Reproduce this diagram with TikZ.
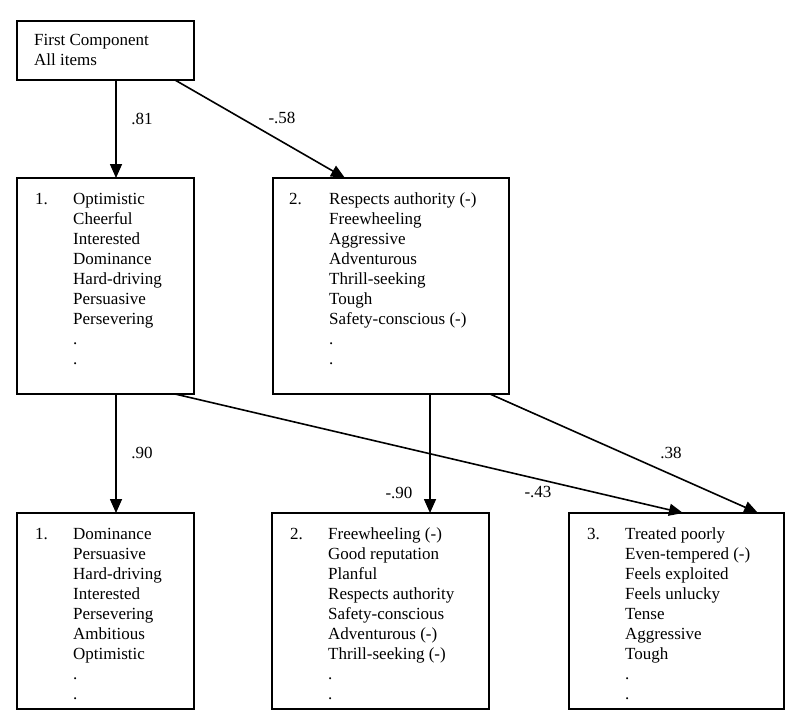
\documentclass[tikz,border=0pt]{standalone}
\usepackage{fontspec}
\setmainfont{Liberation Serif}
\usetikzlibrary{arrows.meta}
\begin{document}
\begin{tikzpicture}[x=1pt,y=-1pt,
  box/.style={draw,line width=1.8pt,inner sep=0pt,outer sep=0pt,anchor=north west},
  items/.style={anchor=base west,inner sep=0pt,font=\fontsize{17}{20}\selectfont},
  lbl/.style={font=\fontsize{17}{20}\selectfont},
  arr/.style={line width=1.6pt,-{Triangle[length=14pt,width=12pt]}}]
\useasboundingbox (0,0) rectangle (800,726);
% boxes
\node[box,minimum width=177,minimum height=59] (top) at (17,21) {};
\node[box,minimum width=177,minimum height=216] (m1) at (17,178) {};
\node[box,minimum width=236,minimum height=216] (m2) at (273,178) {};
\node[box,minimum width=177,minimum height=196] (b1) at (17,513) {};
\node[box,minimum width=217,minimum height=196] (b2) at (272,513) {};
\node[box,minimum width=215,minimum height=196] (b3) at (569,513) {};
% texts
\node[items] (ttop) at ([shift={(17,24)}]top.north west)
  {\begin{tabular}[t]{@{}l@{}}First Component\\All items\end{tabular}};
\node[items] (tm1) at ([shift={(18,26)}]m1.north west)
  {\begin{tabular}[t]{@{}p{38pt}@{}l@{}}
    1. & Optimistic\\ & Cheerful\\ & Interested\\ & Dominance\\ & Hard-driving\\
       & Persuasive\\ & Persevering\\ & .\\ & .
  \end{tabular}};
\node[items] (tm2) at ([shift={(16,26)}]m2.north west)
  {\begin{tabular}[t]{@{}p{40pt}@{}l@{}}
    2. & Respects authority (-)\\ & Freewheeling\\ & Aggressive\\ & Adventurous\\
       & Thrill-seeking\\ & Tough\\ & Safety-conscious (-)\\ & .\\ & .
  \end{tabular}};
\node[items] (tb1) at ([shift={(18,26)}]b1.north west)
  {\begin{tabular}[t]{@{}p{38pt}@{}l@{}}
    1. & Dominance\\ & Persuasive\\ & Hard-driving\\ & Interested\\ & Persevering\\
       & Ambitious\\ & Optimistic\\ & .\\ & .
  \end{tabular}};
\node[items] (tb2) at ([shift={(18,26)}]b2.north west)
  {\begin{tabular}[t]{@{}p{38pt}@{}l@{}}
    2. & Freewheeling (-)\\ & Good reputation\\ & Planful\\ & Respects authority\\
       & Safety-conscious\\ & Adventurous (-)\\ & Thrill-seeking (-)\\ & .\\ & .
  \end{tabular}};
\node[items] (tb3) at ([shift={(18,26)}]b3.north west)
  {\begin{tabular}[t]{@{}p{38pt}@{}l@{}}
    3. & Treated poorly\\ & Even-tempered (-)\\ & Feels exploited\\ & Feels unlucky\\
       & Tense\\ & Aggressive\\ & Tough\\ & .\\ & .
  \end{tabular}};
% loadings
\draw[arr] ([xshift=99pt]top.south west) -- ([xshift=99pt]m1.north west);
\draw[arr] ([xshift=158pt]top.south west) -- ([xshift=72pt]m2.north west);
\draw[arr] ([xshift=99pt]m1.south west) -- ([xshift=99pt]b1.north west);
\draw[arr] ([xshift=158pt]m1.south west) -- ([xshift=114pt]b3.north west);
\draw[arr] ([xshift=157pt]m2.south west) -- ([xshift=158pt]b2.north west);
\draw[arr] ([xshift=217pt]m2.south west) -- ([xshift=189pt]b3.north west);
\node[lbl] (l81) at (142,119) {.81};
\node[lbl] (l58) at (282,118) {-.58};
\node[lbl] (l90) at (142,453) {.90};
\node[lbl] (ln90) at (399,493) {-.90};
\node[lbl] (l43) at (538,492) {-.43};
\node[lbl] (l38) at (671,453) {.38};
\end{tikzpicture}
\end{document}
